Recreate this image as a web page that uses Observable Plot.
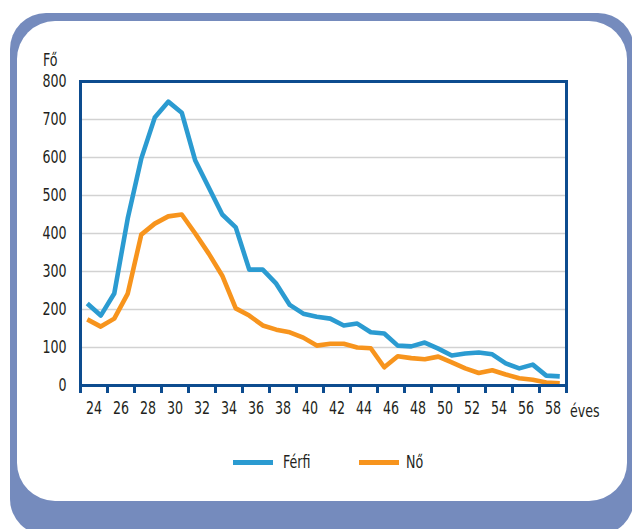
<!DOCTYPE html>
<html>
<head>
<meta charset="utf-8">
<script src="https://cdn.jsdelivr.net/npm/d3@7"></script>
<script src="https://cdn.jsdelivr.net/npm/@observablehq/plot@0.6"></script>
<style>
  html, body { margin: 0; padding: 0; background: #ffffff; }
  body { width: 632px; height: 529px; position: relative; overflow: hidden;
         font-family: "Liberation Sans Narrow", "DejaVu Sans Condensed", sans-serif;
         font-stretch: condensed; color: #231f20; }
  #outer { position: absolute; left: 10px; top: 13px; width: 624px; height: 522px;
           background: #758bbd; border-radius: 36px; }
  #inner { position: absolute; left: 17px; top: 21px; width: 610px; height: 480px;
           background: #ffffff; border-radius: 38px; }
  #chart { position: absolute; left: 0; top: 0; }
  .lbl { position: absolute; font-size: 18px; line-height: 18px; white-space: nowrap;
         transform: scaleX(0.78); transform-origin: 0 50%; }
  .sw { position: absolute; height: 5px; }
</style>
</head>
<body>
<div id="outer"></div>
<div id="inner"></div>
<div id="chart"></div>
<div class="lbl" id="unit" style="left:43px; top:51px;">Fő</div>
<div class="lbl" id="xunit" style="left:570px; top:402px;">éves</div>
<div id="legend"></div>
<script>
// ---- data ----
const ages = [24,25,26,27,28,29,30,31,32,33,34,35,36,37,38,39,40,41,42,43,44,45,46,47,48,49,50,51,52,53,54,55,56,57,58,59];
const ferfi = [216,184,242,440,597,705,747,718,592,521,450,416,305,305,268,212,189,181,176,158,163,140,137,105,103,113,97,79,84,87,82,58,45,55,26,24];
const no = [174,155,176,242,397,426,445,450,400,347,289,203,184,158,147,140,126,105,110,110,100,98,48,77,72,69,76,61,45,33,40,29,19,15,8,6];
const seriesNames = ["Férfi", "Nő"];
const seriesColors = ["#2b9bd1", "#f7941d"];
const xTickLabels = ["24","26","28","30","32","34","36","38","40","42","44","46","48","50","52","54","56","58"];
const yTicks = [0,100,200,300,400,500,600,700,800];

const data = [];
ages.forEach((a, i) => {
  data.push({age: a, value: ferfi[i], series: seriesNames[0]});
  data.push({age: a, value: no[i], series: seriesNames[1]});
});

// category boundaries (tick marks) and label centres (pairs of categories)
const boundaries = d3.range(0, ages.length + 1, 2).map(k => ages[0] - 0.5 + k);
const labelPos = xTickLabels.map(l => +l + 0.5);

const font = '"Liberation Sans Narrow", "DejaVu Sans Condensed", sans-serif';
const axisColor = "#0d4c8f";

const chart = Plot.plot({
  width: 632,
  height: 529,
  marginLeft: 80,
  marginRight: 66,
  marginTop: 81,
  marginBottom: 144,
  style: {background: "transparent", fontFamily: font, fontSize: "18px", color: "#231f20", overflow: "visible"},
  x: {domain: [ages[0] - 0.5, ages[ages.length - 1] + 0.5], axis: null, label: null},
  y: {domain: [0, 800], axis: null, label: null},
  color: {domain: seriesNames, range: seriesColors},
  marks: [
    Plot.ruleY(yTicks.filter(d => d > 0 && d < 800), {stroke: "#d2d2d2", strokeWidth: 1.6}),
    Plot.line(data, {x: "age", y: "value", z: "series", stroke: "series", strokeWidth: 4.6,
                     strokeLinejoin: "round", strokeLinecap: "butt"}),
    Plot.axisX(boundaries, {tickSize: 8, stroke: axisColor, strokeWidth: 3, strokeOpacity: 1,
                            tickFormat: () => "", label: null}),
    Plot.axisX(labelPos, {tickSize: 0, tickPadding: 16, tickFormat: d => String(d - 0.5),
                          fill: "#231f20", fontSize: 18, label: null}),
    Plot.axisY(yTicks, {tickSize: 0, tickPadding: 14, fill: "#231f20", fontSize: 18, label: null}),
    Plot.frame({stroke: axisColor, strokeWidth: 3})
  ]
});
document.getElementById("chart").appendChild(chart);

// condense the glyphs horizontally to mimic the narrow typeface of the original
d3.select(chart).selectAll("text").each(function() {
  const len = this.getComputedTextLength();
  if (len > 0) {
    this.setAttribute("textLength", (len * 0.78).toFixed(2));
    this.setAttribute("lengthAdjust", "spacingAndGlyphs");
  }
});

// legend
const legend = document.getElementById("legend");
const legendX = [233, 359];
seriesNames.forEach((name, i) => {
  const sw = document.createElement("div");
  sw.className = "sw";
  sw.style.left = legendX[i] + "px";
  sw.style.top = "460px";
  sw.style.width = "40px";
  sw.style.background = seriesColors[i];
  legend.appendChild(sw);
  const t = document.createElement("div");
  t.className = "lbl";
  t.style.left = (legendX[i] + 50 - (i ? 3 : 0)) + "px";
  t.style.top = "453px";
  t.textContent = name;
  legend.appendChild(t);
});
</script>
</body>
</html>
